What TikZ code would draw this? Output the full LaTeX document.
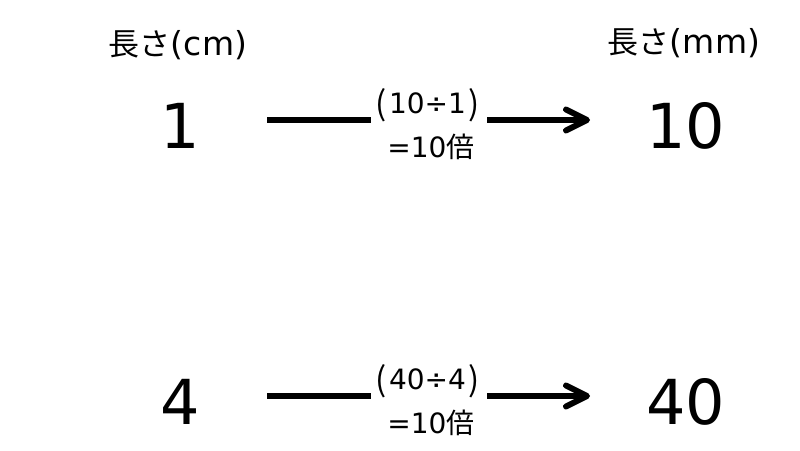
\documentclass[tikz,border=0pt]{standalone}
\usepackage{fontspec}
\setmainfont{DejaVu Sans}
\newfontfamily\jp{Noto Sans CJK JP}
\usetikzlibrary{arrows.meta}
\newcommand{\lp}{\raisebox{-2.5pt}{\jp\fontsize{33}{33}\selectfont (}\hspace{2pt}}
\newcommand{\rp}{\hspace{3pt}\raisebox{-2.5pt}{\jp\fontsize{33}{33}\selectfont )}}
\begin{document}
\begin{tikzpicture}[x=1pt,y=-1pt,
  big/.style={anchor=base,inner sep=0pt,font=\fontsize{62}{70}\selectfont},
  head/.style={anchor=base,inner sep=0pt},
  lbl/.style={anchor=base,inner xsep=5pt,inner ysep=0pt,font=\fontsize{28}{30}\selectfont},
  conn/.style={line width=6pt},
  tip/.style={-{Straight Barb[length=21pt,width=21pt,round]}}
]
\useasboundingbox[fill=white] (0,0) rectangle (800,450);
% headers
\node[head] (h1) at (178,55) {\fontsize{31}{36}\selectfont\jp 長さ\fontsize{33}{36}\selectfont\rmfamily(cm)};
\node[head] (h2) at (684,53) {\fontsize{31}{36}\selectfont\jp 長さ\fontsize{33}{36}\selectfont\rmfamily(mm)};
% row 1
\node[big] (n1) at (180,148) {1};
\node[big] (m1) at (686,148) {10};
\node[lbl] (a1) at (428,113) {\lp 10÷1\rp};
\node[lbl] (b1) at (431,157) {=10{\jp 倍}};
\coordinate (s1) at (267,120);
\coordinate (e1) at (590,120);
\draw[conn] (s1) -- (s1 -| a1.west);
\draw[conn,tip,shorten <=2pt] (e1 -| a1.east) -- (e1);
% row 2
\node[big] (n2) at (180,424) {4};
\node[big] (m2) at (686,424) {40};
\node[lbl] (a2) at (428,389) {\lp 40÷4\rp};
\node[lbl] (b2) at (431,433) {=10{\jp 倍}};
\coordinate (s2) at (267,396);
\coordinate (e2) at (590,396);
\draw[conn] (s2) -- (s2 -| a2.west);
\draw[conn,tip,shorten <=2pt] (e2 -| a2.east) -- (e2);
\end{tikzpicture}
\end{document}
